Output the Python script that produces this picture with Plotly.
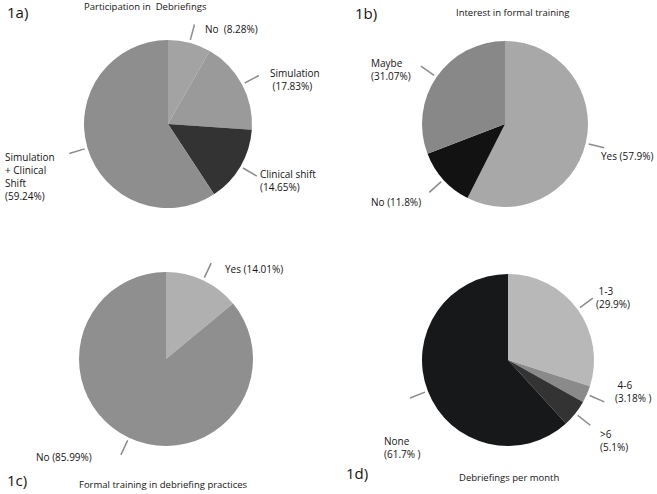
import math
import plotly.graph_objects as go

W, H = 657, 494

# ---------------- data ----------------
a_labels = ["No", "Simulation", "Clinical shift", "Simulation + Clinical Shift"]
a_values = [8.28, 17.83, 14.65, 59.24]
a_text = ["No  (8.28%)", "Simulation<br> (17.83%)", "Clinical shift<br>(14.65%)",
          "Simulation<br>+ Clinical<br>Shift<br>(59.24%)"]

b_labels = ["Yes", "No", "Maybe"]
b_values = [57.9, 11.8, 31.07]
b_text = ["Yes (57.9%)", "No (11.8%)", "Maybe<br>(31.07%)"]

c_labels = ["Yes", "No"]
c_values = [14.01, 85.99]
c_text = ["Yes (14.01%)", "No (85.99%)"]

d_labels = ["1-3", "4-6", ">6", "None"]
d_values = [29.9, 3.18, 5.1, 61.7]
d_text = [" 1-3<br>(29.9%)", " 4-6<br>(3.18% )", ">6<br>(5.1%)", "None<br>(61.7% )"]

# ---------------- styling / layout ----------------
panels = [
    dict(values=a_values, labels=a_labels, text=a_text,
         colors=["#a3a3a3", "#9a9a9a", "#333333", "#8e8e8e"],
         cx=168, cy=124, r=84,
         label_pos=[(203, 29), (268, 80), (258, 181), (3, 176)],
         tag=("1a)", 5, 12), title=("Participation in  Debriefings", 145, 6)),
    dict(values=b_values, labels=b_labels, text=b_text,
         colors=["#a8a8a8", "#121212", "#888888"],
         cx=505, cy=124, r=83,
         label_pos=[(599, 156), (369, 202), (369, 69)],
         tag=("1b)", 353, 13), title=("Interest in formal training", 512, 12)),
    dict(values=c_values, labels=c_labels, text=c_text,
         colors=["#b0b0b0", "#8f8f8f"],
         cx=166, cy=359, r=87,
         label_pos=[(223, 269), (34, 457)],
         tag=("1c)", 5, 480), title=("Formal training in debriefing practices", 163, 484)),
    dict(values=d_values, labels=d_labels, text=d_text,
         colors=["#b8b8b8", "#8a8a8a", "#333333", "#16181a"],
         cx=508, cy=360, r=86,
         label_pos=[(594, 297), (613, 391), (598, 440), (382, 447)],
         tag=("1d)", 344, 473), title=("Debriefings per month", 509, 477)),
]

FONT = "Open Sans"
TEXT_COLOR = "#141414"

fig = go.Figure()
shapes = []
annotations = []


def px2paper(x, y):
    return x / W, 1 - y / H


for p in panels:
    cx, cy, r = p["cx"], p["cy"], p["r"]
    x0, y1 = px2paper(cx - r, cy - r)
    x1, y0 = px2paper(cx + r, cy + r)
    fig.add_trace(go.Pie(
        values=p["values"], labels=p["labels"], sort=False,
        direction="clockwise", rotation=0,
        marker=dict(colors=p["colors"], line=dict(width=0)),
        textinfo="none", hoverinfo="label+percent", showlegend=False,
        domain=dict(x=[x0, x1], y=[y0, y1]),
    ))
    total = sum(p["values"])
    cum = 0.0
    for v, txt, (lx, ly) in zip(p["values"], p["text"], p["label_pos"]):
        mid = (cum + v / 2) / total * 2 * math.pi
        cum += v
        sx, sy = cx + math.sin(mid) * (r + 3), cy - math.cos(mid) * (r + 3)
        ex, ey = cx + math.sin(mid) * (r + 19), cy - math.cos(mid) * (r + 19)
        ax, ay = px2paper(sx, sy)
        bx, by = px2paper(ex, ey)
        shapes.append(dict(type="line", xref="paper", yref="paper",
                           x0=ax, y0=ay, x1=bx, y1=by,
                           line=dict(color="#8c8c8c", width=1.5)))
        tx, ty = px2paper(lx, ly)
        annotations.append(dict(text=txt, x=tx, y=ty, xref="paper", yref="paper",
                                xanchor="left", yanchor="middle", align="left",
                                showarrow=False,
                                font=dict(family=FONT, size=10, color=TEXT_COLOR)))
    t, tx, ty = p["tag"]
    px_, py_ = px2paper(tx, ty)
    annotations.append(dict(text=t, x=px_, y=py_, xref="paper", yref="paper",
                            xanchor="left", yanchor="middle", showarrow=False,
                            font=dict(family=FONT, size=15, color=TEXT_COLOR)))
    t, tx, ty = p["title"]
    px_, py_ = px2paper(tx, ty)
    annotations.append(dict(text=t, x=px_, y=py_, xref="paper", yref="paper",
                            xanchor="center", yanchor="middle", showarrow=False,
                            font=dict(family=FONT, size=9.5, color=TEXT_COLOR)))

fig.update_layout(
    width=W, height=H,
    margin=dict(l=0, r=0, t=0, b=0),
    paper_bgcolor="white", plot_bgcolor="white",
    shapes=shapes, annotations=annotations,
)

fig.write_html(
    "out.html",
    config={"displayModeBar": False},
    post_script="document.body.style.margin='0';document.body.style.overflow='hidden';",
)
